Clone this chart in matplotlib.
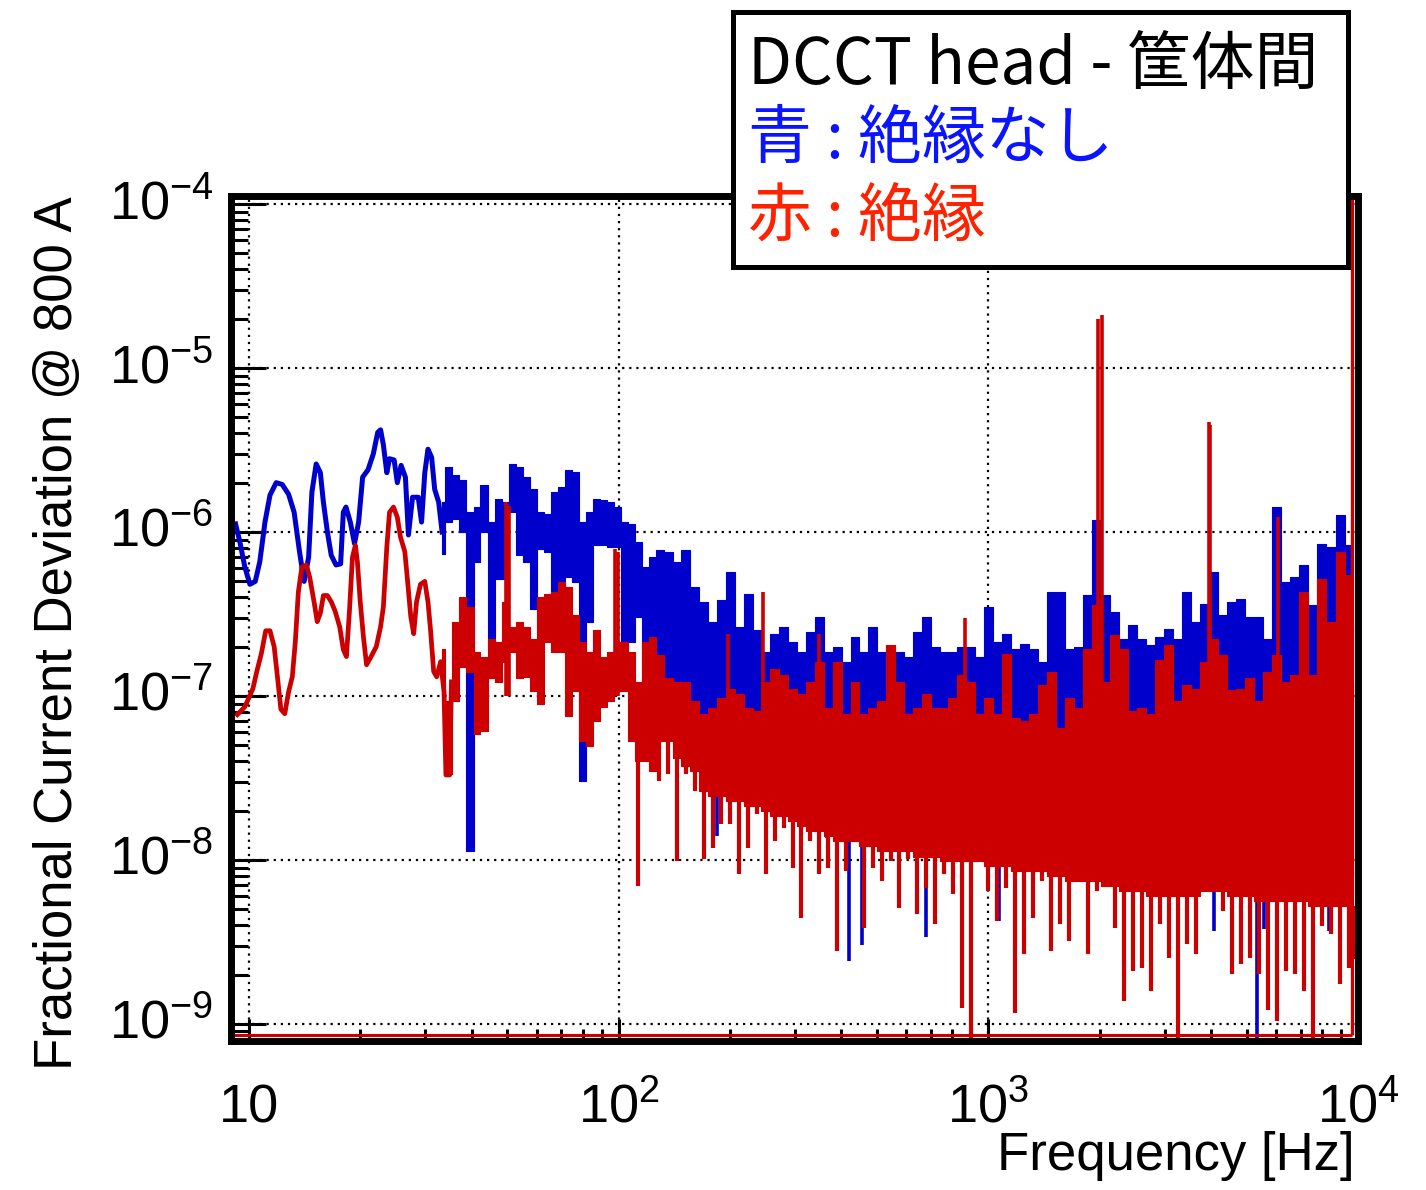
import numpy as np
import matplotlib
matplotlib.use("Agg")
import matplotlib.pyplot as plt
from matplotlib import font_manager
from matplotlib.ticker import LogLocator, NullFormatter, FixedLocator
from matplotlib.patches import Rectangle

# ---------------- data ----------------
x_range = (8.97, 1.0e4)
y_range = (7.93e-10, 1.12e-4)
x_ticks = [10, 100, 1000, 10000]
x_tick_labels = ["10", "$10^{2}$", "$10^{3}$", "$10^{4}$"]
y_ticks = [1e-9, 1e-8, 1e-7, 1e-6, 1e-5, 1e-4]
y_tick_labels = ["$10^{-9}$", "$10^{-8}$", "$10^{-7}$", "$10^{-6}$", "$10^{-5}$", "$10^{-4}$"]

x_title = "Frequency [Hz]"
y_title = "Fractional Current Deviation @ 800 A"
legend_title = "DCCT head - 筐体間"
legend_blue = "青 : 絶縁なし"
legend_red = "赤 : 絶縁"

# low-frequency part (resolved line)
blue_line_freq = [9.2, 9.45, 9.75, 10.06, 10.4, 10.7, 11.05, 11.4, 11.85, 12.3,
                  12.8, 13.25, 13.7, 14.1, 14.5, 14.8, 15.2, 15.6, 15.9, 16.3,
                  16.7, 17.2, 17.7, 18.0, 18.3, 18.8, 19.3, 19.8, 20.3, 21.0,
                  21.7, 22.3, 22.7, 23.1, 23.6, 24.0, 24.7, 25.2, 25.8, 26.5,
                  27.0, 27.7, 28.7, 29.3, 29.9, 30.5, 31.2, 31.8, 32.6, 33.3]
blue_line_val = [1.12e-6, 8.7e-7, 6.1e-7, 4.8e-7, 5.0e-7, 6.6e-7, 1.15e-6, 1.68e-6, 2.0e-6, 1.95e-6,
                 1.7e-6, 1.32e-6, 7.6e-7, 5.0e-7, 7.0e-7, 1.75e-6, 2.6e-6, 2.3e-6, 1.52e-6, 1.0e-6,
                 7.2e-7, 6.3e-7, 6.4e-7, 1.32e-6, 1.42e-6, 1.15e-6, 8.5e-7, 1.15e-6, 2.16e-6, 2.4e-6,
                 3.0e-6, 4.05e-6, 4.2e-6, 3.4e-6, 2.3e-6, 2.8e-6, 2.75e-6, 2.0e-6, 2.55e-6, 2.16e-6,
                 9.6e-7, 1.63e-6, 1.63e-6, 1.15e-6, 2.3e-6, 3.2e-6, 2.85e-6, 1.82e-6, 1.52e-6, 1.0e-6]

red_line_freq = [9.3, 9.75, 10.25, 10.5, 10.8, 11.1, 11.4, 11.7, 11.9, 12.2,
                 12.5, 12.8, 13.1, 13.35, 13.6, 13.9, 14.3, 14.6, 15.0, 15.3,
                 15.6, 15.9, 16.3, 16.7, 17.1, 17.6, 18.0, 18.35, 18.7, 19.05,
                 19.4, 19.65, 20.0, 20.4, 20.8, 21.4, 22.1, 22.7, 23.1, 23.6,
                 24.0, 24.6, 25.2, 25.7, 26.4, 26.8, 27.4, 27.9, 28.4, 29.1,
                 29.9, 30.5, 31.0, 31.6, 32.2, 33.0, 33.7, 34.1, 34.9, 35.3]
red_line_val = [7.7e-8, 8.6e-8, 1.11e-7, 1.41e-7, 1.81e-7, 2.5e-7, 2.5e-7, 2.0e-7, 1.41e-7, 8.3e-8,
                7.8e-8, 1.06e-7, 1.31e-7, 2.15e-7, 4.3e-7, 6.1e-7, 6.3e-7, 5.3e-7, 3.75e-7, 2.84e-7,
                3.2e-7, 4.1e-7, 4.1e-7, 3.75e-7, 3.3e-7, 2.64e-7, 1.92e-7, 1.74e-7, 3.3e-7, 7.0e-7,
                8.3e-7, 6.6e-7, 3.75e-7, 2.3e-7, 1.55e-7, 1.74e-7, 2.0e-7, 2.64e-7, 3.5e-7, 8.1e-7,
                1.32e-6, 1.42e-6, 1.23e-6, 9.3e-7, 7.6e-7, 5.3e-7, 3.04e-7, 2.4e-7, 3.75e-7, 4.8e-7,
                5.0e-7, 3.75e-7, 2.5e-7, 1.41e-7, 1.31e-7, 1.62e-7, 1.06e-7, 3.3e-8, 3.3e-8, 1.22e-7]

# dense part: per-bin upper / lower envelope of the spectra
band_freq = [33.2, 34.7, 36.3, 37.9, 39.6, 41.4, 43.2, 45.2, 47.2, 49.3,
             51.5, 53.8, 56.2, 58.7, 61.4, 64.1, 67.0, 70.0, 73.1, 76.4,
             79.8, 83.4, 87.1, 91.0, 95.1, 99.4, 103.8, 108.3, 113.1, 118.1,
             123.3, 128.7, 136.1, 143.8, 152.0, 160.6, 169.8, 179.5, 189.7, 200.5,
             211.9, 224.0, 236.7, 250.2, 264.5, 279.6, 295.5, 312.3, 330.1, 348.9,
             368.9, 389.9, 412.1, 435.6, 460.4, 486.7, 514.4, 543.8, 574.7, 607.5,
             642.1, 678.7, 717.4, 758.3, 801.5, 847.2, 895.4, 946.4, 1000, 1058,
             1119, 1183, 1252, 1324, 1400, 1481, 1567, 1657, 1753, 1855,
             1962, 2075, 2195, 2322, 2456, 2597, 2748, 2907, 3075, 3252,
             3440, 3639, 3849, 4072, 4306, 4555, 4819, 5097, 5391, 5703,
             6032, 6381, 6749, 7139, 7551, 7987, 8448, 8937, 9454, 9700]

blue_hi = [1.52e-6, 2.48e-6, 2.22e-6, 2.07e-6, 1.32e-6, 1.42e-6, 1.93e-6, 1.15e-6, 1.59e-6, 1.52e-6,
           2.59e-6, 2.48e-6, 2.16e-6, 1.82e-6, 1.32e-6, 1.28e-6, 1.75e-6, 1.87e-6, 2.38e-6, 2.32e-6,
           1.15e-6, 1.32e-6, 1.59e-6, 1.56e-6, 1.52e-6, 1.42e-6, 1.15e-6, 1.12e-6, 8.69e-7, 6.13e-7,
           7.05e-7, 7.77e-7, 7.56e-7, 6.57e-7, 7.77e-7, 4.63e-7, 3.75e-7, 2.84e-7, 3.86e-7, 5.71e-7,
           2.65e-7, 4.20e-7, 2.54e-7, 1.86e-7, 2.40e-7, 2.65e-7, 2.14e-7, 1.86e-7, 2.47e-7, 3.04e-7,
           1.86e-7, 2.00e-7, 1.62e-7, 2.30e-7, 1.86e-7, 2.65e-7, 1.86e-7, 2.00e-7, 1.86e-7, 1.73e-7,
           2.47e-7, 3.04e-7, 2.00e-7, 1.86e-7, 1.86e-7, 2.00e-7, 2.00e-7, 1.73e-7, 3.50e-7, 2.14e-7,
           2.40e-7, 1.94e-7, 2.08e-7, 1.94e-7, 1.62e-7, 4.32e-7, 4.32e-7, 1.94e-7, 2.00e-7, 4.14e-7,
           1.18e-6, 4.14e-7, 3.26e-7, 2.24e-7, 2.72e-7, 2.24e-7, 2.05e-7, 2.30e-7, 2.58e-7, 2.24e-7,
           4.32e-7, 2.84e-7, 3.65e-7, 5.71e-7, 3.13e-7, 3.75e-7, 3.92e-7, 3.04e-7, 3.04e-7, 2.24e-7,
           1.42e-6, 4.97e-7, 5.32e-7, 6.30e-7, 3.60e-7, 8.45e-7, 8.10e-7, 1.27e-6, 8.33e-7, 2.72e-7]

blue_lo = [7.35e-7, 1.15e-6, 1.20e-6, 1.0e-6, 1.13e-8, 6.57e-7, 1.0e-6, 1.94e-7, 5.18e-7, 5.18e-7,
           1.32e-6, 7.25e-7, 6.57e-7, 3.40e-7, 7.88e-7, 7.56e-7, 2.37e-7, 3.75e-7, 5.32e-7, 4.97e-7,
           3.02e-8, 2.84e-7, 8.33e-7, 8.33e-7, 8.10e-7, 8.10e-7, 1.22e-7, 2.14e-7, 3.04e-7, 9.26e-8,
           9.26e-8, 7.0e-8, 6.08e-8, 5.29e-8, 5.29e-8, 4.60e-8, 4.0e-8, 4.0e-8, 4.0e-8, 4.0e-8,
           3.48e-8, 3.48e-8, 3.24e-8, 3.02e-8, 3.02e-8, 2.82e-8, 2.63e-8, 2.63e-8, 2.28e-8, 2.28e-8,
           2.28e-8, 1.99e-8, 1.99e-8, 1.99e-8, 1.86e-8, 1.86e-8, 1.73e-8, 1.73e-8, 1.73e-8, 1.73e-8,
           1.61e-8, 1.61e-8, 1.61e-8, 1.50e-8, 1.50e-8, 1.50e-8, 1.50e-8, 1.50e-8, 1.40e-8, 1.40e-8,
           1.40e-8, 1.30e-8, 1.30e-8, 1.30e-8, 1.30e-8, 1.21e-8, 1.21e-8, 1.21e-8, 1.21e-8, 1.13e-8,
           1.13e-8, 1.13e-8, 1.05e-8, 1.05e-8, 9.86e-9, 9.86e-9, 9.86e-9, 9.86e-9, 9.2e-9, 9.2e-9,
           9.2e-9, 9.2e-9, 9.2e-9, 9.2e-9, 9.2e-9, 9.2e-9, 9.2e-9, 8.57e-9, 8.57e-9, 8.57e-9,
           8.57e-9, 8.57e-9, 8.57e-9, 8.57e-9, 8.0e-9, 8.0e-9, 8.0e-9, 8.0e-9, 8.0e-9, 8.0e-9]

red_hi = [1.94e-7, 9.26e-8, 2.84e-7, 4.03e-7, 3.50e-7, 1.86e-7, 1.73e-7, 2.24e-7, 2.14e-7, 3.75e-7,
          2.65e-7, 2.84e-7, 2.65e-7, 2.24e-7, 4.03e-7, 4.20e-7, 4.32e-7, 4.97e-7, 4.63e-7, 3.13e-7,
          2.14e-7, 1.86e-7, 2.54e-7, 1.73e-7, 1.86e-7, 2.14e-7, 2.14e-7, 1.86e-7, 1.22e-7, 2.14e-7,
          2.30e-7, 1.78e-7, 1.28e-7, 1.22e-7, 1.22e-7, 9.26e-8, 7.72e-8, 8.40e-8, 9.70e-8, 1.11e-7,
          1.03e-7, 8.40e-8, 8.05e-8, 1.22e-7, 1.47e-7, 1.35e-7, 1.11e-7, 1.03e-7, 1.22e-7, 1.62e-7,
          8.40e-8, 1.62e-7, 7.72e-8, 1.22e-7, 7.72e-8, 8.40e-8, 9.26e-8, 2.05e-7, 1.22e-7, 7.72e-8,
          8.40e-8, 1.03e-7, 8.40e-8, 8.40e-8, 9.70e-8, 1.35e-7, 1.22e-7, 7.72e-8, 9.70e-8, 7.72e-8,
          1.81e-7, 7.30e-8, 7.0e-8, 7.72e-8, 1.17e-7, 1.41e-7, 6.35e-8, 9.70e-8, 8.40e-8, 1.94e-7,
          3.60e-7, 1.22e-7, 2.37e-7, 1.94e-7, 8.05e-8, 8.40e-8, 7.72e-8, 1.66e-7, 2.05e-7, 9.26e-8,
          1.17e-7, 1.11e-7, 1.62e-7, 2.24e-7, 1.78e-7, 1.09e-7, 1.11e-7, 1.28e-7, 9.26e-8, 1.41e-7,
          1.78e-7, 1.22e-7, 1.35e-7, 4.32e-7, 1.35e-7, 5.18e-7, 2.84e-7, 7.56e-7, 5.48e-7, 1.17e-7]

red_lo = [1.22e-7, 3.34e-8, 9.26e-8, 1.51e-7, 1.41e-7, 5.83e-8, 6.08e-8, 1.28e-7, 1.22e-7, 1.62e-7,
          1.86e-7, 1.28e-7, 1.31e-7, 1.07e-7, 8.88e-8, 2.14e-7, 1.86e-7, 1.86e-7, 7.51e-8, 1.07e-7,
          5.29e-8, 4.93e-8, 7.0e-8, 8.63e-8, 9.26e-8, 1.07e-7, 1.07e-7, 5.29e-8, 4.0e-8, 4.0e-8,
          3.48e-8, 5.29e-8, 5.29e-8, 4.17e-8, 3.73e-8, 3.48e-8, 2.63e-8, 2.45e-8, 2.45e-8, 2.28e-8,
          2.28e-8, 2.13e-8, 2.13e-8, 1.99e-8, 1.86e-8, 1.86e-8, 1.73e-8, 1.61e-8, 1.50e-8, 1.50e-8,
          1.40e-8, 1.30e-8, 1.30e-8, 1.30e-8, 1.21e-8, 1.21e-8, 1.13e-8, 1.13e-8, 1.13e-8, 1.13e-8,
          1.05e-8, 1.05e-8, 1.05e-8, 9.86e-9, 9.86e-9, 9.86e-9, 9.86e-9, 9.86e-9, 9.2e-9, 9.2e-9,
          9.2e-9, 8.57e-9, 8.57e-9, 8.57e-9, 8.57e-9, 8.0e-9, 8.0e-9, 7.45e-9, 7.45e-9, 7.45e-9,
          7.45e-9, 6.95e-9, 6.95e-9, 6.48e-9, 6.48e-9, 6.48e-9, 6.04e-9, 6.04e-9, 6.04e-9, 6.04e-9,
          6.04e-9, 6.04e-9, 6.48e-9, 6.48e-9, 6.48e-9, 6.04e-9, 6.04e-9, 6.04e-9, 5.63e-9, 5.63e-9,
          5.63e-9, 5.63e-9, 5.63e-9, 5.63e-9, 5.25e-9, 5.25e-9, 5.25e-9, 5.25e-9, 5.25e-9, 5.25e-9]

nan = float("nan")
red_dip = [nan, nan, nan, nan, nan, nan, nan, nan, nan, nan,
           nan, nan, nan, nan, nan, nan, nan, nan, nan, nan,
           nan, nan, nan, nan, nan, nan, nan, nan, 6.95e-9, nan,
           nan, 3.02e-8, 3.34e-8, 9.86e-9, 3.34e-8, 2.63e-8, 1.02e-8, 1.18e-8, 1.66e-8, 1.66e-8,
           8.22e-9, 1.18e-8, 1.91e-8, 8.22e-9, 1.30e-8, 1.57e-8, 8.94e-9, 4.44e-9, 1.30e-8, 8.22e-9,
           8.94e-9, 2.80e-9, 8.57e-9, nan, 3.86e-9, 8.94e-9, 7.45e-9, 9.86e-9, 5.10e-9, 1.02e-8,
           4.70e-9, 6.75e-9, 4.08e-9, 8.22e-9, 6.21e-9, 1.26e-9, 6e-10, nan, 6.48e-9, 4.26e-9,
           6.75e-9, 1.16e-9, 2.68e-9, 4.44e-9, 7.45e-9, 2.80e-9, 4.08e-9, 3.22e-9, nan, 2.68e-9,
           6.48e-9, nan, 3.86e-9, 1.39e-9, 2.11e-9, 2.20e-9, 1.60e-9, 4.08e-9, 2.54e-9, 6e-10,
           3.09e-9, 2.68e-9, nan, nan, 4.90e-9, 2.02e-9, 2.33e-9, 2.54e-9, 2.02e-9, 1.21e-9,
           1.05e-9, 2.11e-9, 2.02e-9, 1.60e-9, 6e-10, 3.97e-9, 3.55e-9, 1.76e-9, 2.20e-9, 2.5e-9]

# narrow lines (mains harmonics etc.)
red_peak_freq = [49.6, 50.6, 98.0, 99.8, 198.0, 246.0, 349.0, 863.0, 1985.0, 2030.0, 3950.0, 3990.0, 6060.0]
red_peak_val = [1.52e-6, 1.45e-6, 7.9e-7, 7.6e-7, 2.4e-7, 4.3e-7, 2.4e-7, 3.0e-7, 1.98e-5, 2.1e-5, 4.66e-6, 4.5e-6, 1.23e-6]
red_peak_base = 1.0e-7

blue_dip_freq = [185, 365, 421, 454, 679, 1071, 4083, 5333, 5574, 8354]
blue_dip_val = [1.4e-8, 1.36e-8, 2.43e-9, 3.05e-9, 3.4e-9, 4.26e-9, 3.7e-9, 6e-10, 3.8e-9, 3.7e-9]
blue_dip_base = 3.0e-8

red_floor = 8.6e-10
red_edge_freq = 9660.0

# ---------------- fonts ----------------
names = {f.name for f in font_manager.fontManager.ttflist}
NARROW = "Liberation Sans Narrow" in names
SANS = "Liberation Sans Narrow" if NARROW else "Liberation Sans"
plt.rcParams["font.family"] = [SANS, "DejaVu Sans"]
plt.rcParams["mathtext.fontset"] = "custom"
plt.rcParams["mathtext.rm"] = SANS
plt.rcParams["mathtext.it"] = SANS
plt.rcParams["mathtext.bf"] = SANS
CJK = ["Noto Sans CJK JP", "DejaVu Sans"]
TICK_FS = 42 if NARROW else 39
TITLE_FS = 44 if NARROW else 38

BLUE = "#0000cc"
RED = "#cc0000"

# ---------------- figure ----------------
W, H = 1426, 1190
fig = plt.figure(figsize=(W / 100, H / 100), dpi=100)
fig.patch.set_facecolor("white")
ax = fig.add_axes([231.5 / W, 1 - 1040.5 / H, (1358 - 231.5) / W, (1040.5 - 196) / H])
ax.set_xscale("log")
ax.set_yscale("log")
ax.set_xlim(*x_range)
ax.set_ylim(*y_range)

# blue spectrum
ax.plot(blue_line_freq, blue_line_val, color=BLUE, lw=3.6, zorder=2)
ax.fill_between(band_freq, blue_lo, blue_hi, step="mid", color=BLUE, lw=0.8, zorder=2)
ax.vlines(blue_dip_freq, blue_dip_val, blue_dip_base, color=BLUE, lw=2.6, zorder=2)

# red spectrum
ax.plot(red_line_freq, red_line_val, color=RED, lw=3.4, zorder=3)
ax.fill_between(band_freq, red_lo, red_hi, step="mid", color=RED, lw=0.8, zorder=3)
bf = np.array(band_freq)
rd = np.array(red_dip)
rl = np.array(red_lo)
m = ~np.isnan(rd)
ax.vlines(bf[m], rd[m], rl[m], color=RED, lw=3.0, zorder=3)
ax.vlines(red_peak_freq, red_peak_base, red_peak_val, color=RED, lw=2.6, zorder=3)
ax.hlines(red_floor, x_range[0], red_edge_freq, color=RED, lw=2.2, zorder=3)
ax.vlines(red_edge_freq, red_floor, y_range[1], color=RED, lw=2.4, zorder=3)

# axes styling
for s in ax.spines.values():
    s.set_linewidth(5)
    s.set_color("black")
    s.set_zorder(5)

ax.xaxis.set_major_locator(FixedLocator(x_ticks))
ax.set_xticklabels(x_tick_labels)
ax.xaxis.set_minor_locator(LogLocator(base=10, subs=np.arange(2, 10), numticks=100))
ax.xaxis.set_minor_formatter(NullFormatter())
ax.yaxis.set_major_locator(FixedLocator(y_ticks))
ax.set_yticklabels(y_tick_labels)
ax.yaxis.set_minor_locator(LogLocator(base=10, subs=np.arange(2, 10), numticks=100))
ax.yaxis.set_minor_formatter(NullFormatter())

ax.set_axisbelow(True)
ax.grid(True, which="major", color="black", lw=1.6, linestyle=(0, (1, 2.2)))

ax.tick_params(axis="both", which="both", direction="in", top=False, right=False,
               color="black", width=2.2)
ax.tick_params(axis="y", which="major", length=25, pad=13, labelsize=TICK_FS)
ax.tick_params(axis="y", which="minor", length=12)
ax.tick_params(axis="x", which="major", length=16, pad=59, labelsize=TICK_FS)
ax.tick_params(axis="x", which="minor", length=9)
for lab in ax.get_xticklabels():
    lab.set_va("baseline")
for lab in ax.get_yticklabels():
    lab.set_va("center")

# axis titles
fig.text(1355 / W, 1 - 1170 / H, x_title, ha="right", va="baseline", fontsize=TITLE_FS)
fig.text(72 / W, 1 - 196 / H, y_title, rotation=90, rotation_mode="anchor",
         ha="right", va="baseline", fontsize=TITLE_FS)

# legend box
fig.add_artist(Rectangle((733 / W, 1 - 267 / H), 615 / W, 255 / H, transform=fig.transFigure,
                         facecolor="white", edgecolor="black", lw=3.6, zorder=10))
fig.text(748 / W, 1 - 85 / H, legend_title, family=CJK, fontsize=46, color="black",
         va="baseline", zorder=11)
fig.text(748 / W, 1 - 158 / H, legend_blue, family=CJK, fontsize=46, color="#0a14ff",
         va="baseline", zorder=11)
fig.text(748 / W, 1 - 236 / H, legend_red, family=CJK, fontsize=46, color="#ff2200",
         va="baseline", zorder=11)

fig.savefig("out.png", dpi=100, facecolor="white")
